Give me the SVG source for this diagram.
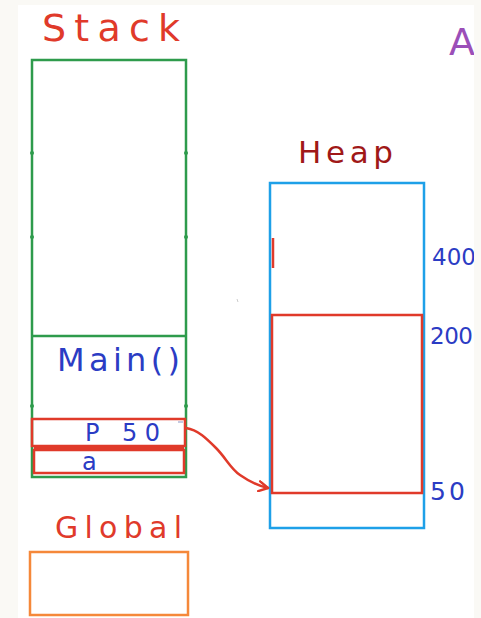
<svg xmlns="http://www.w3.org/2000/svg" width="481" height="618" viewBox="0 0 481 618">
<style>
.hand{font-family:"Comic Sans MS","DejaVu Sans",sans-serif;}
.red{fill:#e03a2a}
.blue{fill:#2b3cc4}
.box{fill:none;stroke-width:2.5}
</style>
<defs>
<marker id="ah" markerWidth="12" markerHeight="12" refX="10" refY="6" orient="auto" markerUnits="userSpaceOnUse">
<path d="M1,1 L10,6 L1,11" fill="none" stroke="#e03a2a" stroke-width="2.5" stroke-linecap="round" stroke-linejoin="round"/>
</marker>
</defs>
<rect x="0" y="0" width="481" height="618" fill="#faf9f5"/>
<rect x="18" y="5" width="456" height="613" fill="#ffffff"/>
<g id="stack">
<text class="hand red" x="42" y="41" font-size="38" textLength="138" lengthAdjust="spacing">Stack</text>
<rect class="box" x="32" y="60" width="154" height="417" stroke="#2e9b4c"/>
<line x1="32" y1="336" x2="186" y2="336" stroke="#2e9b4c" stroke-width="2.5"/>
<g fill="#2e9b4c">
<circle cx="32" cy="153" r="2"/><circle cx="186" cy="153" r="2"/>
<circle cx="32" cy="237" r="2"/><circle cx="186" cy="237" r="2"/>
<circle cx="32" cy="406" r="2"/><circle cx="186" cy="406" r="2"/>
</g>
</g>
<g id="main">
<text class="hand blue" x="57" y="371" font-size="32" textLength="123" lengthAdjust="spacing">Main()</text>
</g>
<g id="p">
<rect class="box" x="32" y="419" width="153" height="27" stroke="#e03a2a"/>
<text class="hand blue" x="85" y="441" font-size="24" textLength="75" lengthAdjust="spacing">P 50</text>
<line x1="178" y1="422" x2="183" y2="422" stroke="#b0b8d8" stroke-width="1.5"/>
</g>
<g id="a">
<rect class="box" x="34" y="450" width="150" height="23" stroke="#e03a2a"/>
<line x1="34" y1="448" x2="184" y2="448" stroke="#e03a2a" stroke-width="4"/>
<text class="hand blue" x="82" y="470" font-size="24">a</text>
</g>
<g id="heap">
<text x="298" y="163" font-size="31" fill="#a01818" class="hand" textLength="95" lengthAdjust="spacing">Heap</text>
<rect class="box" x="270" y="183" width="154" height="345" stroke="#1ea0e8"/>
<line x1="273" y1="238" x2="273" y2="268" stroke="#e03a2a" stroke-width="2.5"/>
<text class="hand blue" x="432" y="265" font-size="23" textLength="44" lengthAdjust="spacing">400</text>
<text class="hand blue" x="430" y="344" font-size="23" textLength="43" lengthAdjust="spacing">200</text>
<text class="hand blue" x="430" y="500" font-size="25" textLength="35" lengthAdjust="spacing">50</text>
</g>
<g id="block">
<rect class="box" x="272" y="315" width="150" height="178" stroke="#e03a2a"/>
</g>
<g id="global">
<text class="hand red" x="55" y="538" font-size="30" textLength="127" lengthAdjust="spacing">Global</text>
<rect class="box" x="30" y="552" width="158" height="63" stroke="#f5883a"/>
</g>
<g id="misc">
<text x="449" y="55" font-size="38" fill="#9b4fb8" class="hand">A</text>
<line x1="237" y1="299" x2="238" y2="302" stroke="#cccccc" stroke-width="1"/>
</g>
<rect x="474" y="0" width="7" height="618" fill="#faf9f5"/>
<g id="connectors">
<path d="M186,428 C198,430 206,438 216,448 C226,458 230,468 240,475 C250,482 258,486 268,488" fill="none" stroke="#e03a2a" stroke-width="2.5" stroke-linecap="round" marker-end="url(#ah)"/>
</g>
</svg>
